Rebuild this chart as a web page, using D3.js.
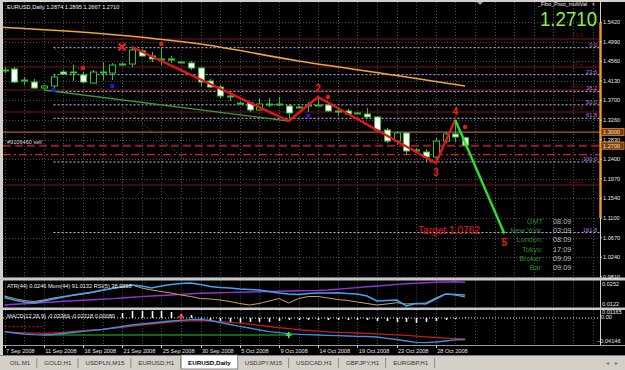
<!DOCTYPE html>
<html><head><meta charset="utf-8">
<script src="https://cdn.jsdelivr.net/npm/d3@7"></script>
<style>
html,body{margin:0;padding:0;background:#d4d0c8;overflow:hidden}
svg{display:block;font-family:"Liberation Sans",Arial,sans-serif}
</style></head>
<body><svg id="c" width="625" height="370"></svg>
<script>
// ---------------- DATA ----------------
const barDates = ["2008-09-07","2008-09-08","2008-09-09","2008-09-10","2008-09-11","2008-09-12","2008-09-14","2008-09-15","2008-09-16","2008-09-17","2008-09-18","2008-09-19","2008-09-21","2008-09-22","2008-09-23","2008-09-24","2008-09-25","2008-09-26","2008-09-28","2008-09-29","2008-09-30","2008-10-01","2008-10-02","2008-10-03","2008-10-05","2008-10-06","2008-10-07","2008-10-08","2008-10-09","2008-10-10","2008-10-12","2008-10-13","2008-10-14","2008-10-15","2008-10-16","2008-10-17","2008-10-19","2008-10-20","2008-10-21","2008-10-22","2008-10-23","2008-10-24","2008-10-26","2008-10-27","2008-10-28","2008-10-29","2008-10-30","2008-10-31"];
const openP  = [1.4368,1.4390,1.4147,1.4103,1.3971,1.4015,1.4324,1.4324,1.4258,1.4081,1.4324,1.4302,1.4500,1.4500,1.4787,1.4677,1.4611,1.4611,1.4544,1.4522,1.4412,1.4125,1.3993,1.3795,1.3640,1.3640,1.3486,1.3618,1.3618,1.3574,1.3552,1.3596,1.3596,1.3596,1.3464,1.3464,1.3420,1.3398,1.3332,1.3045,1.2802,1.2979,1.2604,1.2560,1.2450,1.2802,1.2957,1.2874];
const highP  = [1.4434,1.4434,1.4214,1.4170,1.4037,1.4258,1.4368,1.4478,1.4324,1.4368,1.4544,1.4522,1.4522,1.4875,1.4831,1.4765,1.4853,1.4677,1.4566,1.4566,1.4434,1.4170,1.4037,1.3861,1.3662,1.3662,1.3751,1.3751,1.3773,1.3618,1.3574,1.3662,1.3773,1.3618,1.3552,1.3508,1.3442,1.3530,1.3354,1.3089,1.3023,1.3001,1.2648,1.2626,1.2869,1.3001,1.3265,1.2895];
const lowP   = [1.4302,1.4081,1.4037,1.3949,1.3949,1.3971,1.4258,1.4125,1.4081,1.4059,1.4147,1.4147,1.4478,1.4434,1.4655,1.4544,1.4478,1.4522,1.4522,1.4368,1.4015,1.3971,1.3751,1.3684,1.3618,1.3442,1.3464,1.3552,1.3574,1.3243,1.3530,1.3442,1.3574,1.3442,1.3354,1.3376,1.3398,1.3310,1.3023,1.2758,1.2714,1.2494,1.2538,1.2339,1.2317,1.2758,1.2780,1.2667];
const closeP = [1.4357,1.4103,1.4125,1.3971,1.4015,1.4214,1.4280,1.4313,1.4103,1.4324,1.4313,1.4478,1.4495,1.4809,1.4677,1.4611,1.4600,1.4588,1.4540,1.4412,1.4103,1.3993,1.3795,1.3784,1.3636,1.3486,1.3618,1.3607,1.3614,1.3420,1.3548,1.3585,1.3592,1.3464,1.3453,1.3398,1.3416,1.3332,1.3045,1.2802,1.2979,1.2582,1.2582,1.2450,1.2802,1.2957,1.2891,1.2710];

const maBars = [0,10,20,30,40,47];
const maVals = [1.5305,1.5168,1.4941,1.4566,1.4247,1.4015];

const priceTicks = [1.5420,1.4990,1.4560,1.4130,1.3700,1.3260,1.2830,1.2400,1.1970,1.1540,1.1100,1.0670,1.0240,0.9810];

const fibLabels = ["0.0","23.6","38.2","50.0","61.8","100.0","161.8"];
const fibPrices = [1.4860,1.4265,1.3897,1.3600,1.3303,1.2340,1.0783];
const fibStartBar = 5;

const pivotPrices = [1.5052,1.4434,1.3927,1.3442,1.1832];
const pivotLabels = ["23.6","38.2","50.0","61.8","100.0"];

const zzBars   = [13,29,32,44,46];
const zzPrices = [1.4875,1.3243,1.3773,1.2317,1.3265];
const wave5Bars = [46,51];
const wave5Prices = [1.3265,1.0762];
const waveLabels = ["2","3","4","5"];
const waveLabelBars = [32,44,46,51];
const waveLabelPrices = [1.3773,1.2317,1.3265,1.0762];
const waveLabelAbove = [true,false,true,false];

const redDotBars = [8,16,33,47];
const redDotPrices = [1.4412,1.4941,1.3773,1.3111];
const blueDotBars = [5,11,31];
const blueDotPrices = [1.3927,1.4015,1.3360];
const xMarkBar = 12, xMarkPrice = 1.4875;

const trendBars = [4,29], trendPrices = [1.3927,1.3243];
const dotTrendBars = [4.95,18.7], dotTrendPrices = [1.4875,1.2339];

const resistLevel = 1.3000, orderLevel = 1.2700, stopLevel = 1.2500;
const orderLabel = "#9106460 sell";
const targetPrice = 1.0762;
const lastPrice = "1.2710";
const rangeBar = [1.1100,1.5420];

const atrVals = [0.0132,0.01355,0.01385,0.0141,0.01445,0.0147,0.01505,0.01535,0.0156,0.0158,0.0161,0.0164,0.0167,0.0171,0.0174,0.0177,0.01795,0.0182,0.0185,0.0188,0.01905,0.0192,0.01935,0.0195,0.0196,0.0197,0.01985,0.01995,0.0201,0.0202,0.0203,0.0204,0.02045,0.0207,0.0211,0.0215,0.0219,0.0223,0.0227,0.0231,0.0235,0.02385,0.0241,0.02435,0.02455,0.0247,0.0248,0.0246];
const momVals = [89.87,88.71,87.79,87.32,88.25,89.18,90.11,91.04,91.73,92.43,93.36,94.05,94.75,95.68,95.21,94.29,95.21,95.91,96.38,96.61,95.91,94.98,94.52,94.29,93.82,93.59,93.36,92.66,91.96,91.5,91.27,91.73,91.96,91.96,92.1,91.73,91.5,90.57,88.25,88.48,88.71,85.93,87.09,86.86,89.18,91.5,91.27,91.01];
const rsiVals = [42.9,33.9,26.8,23.2,28.6,35.7,41.1,44.6,50,55.4,62.5,69.6,76.8,82.1,71.4,64.3,58.9,53.6,46.4,41.1,33.9,32.1,28.6,23.2,16.1,10.7,16.1,25,33.9,17.9,33.9,41.1,41.1,35.7,30.4,26.8,21.4,16.1,10.7,14.3,18.9,14.3,16.1,17.9,35.7,50,46.4,38.99];

const macdMain = [-0.02146,-0.0235,-0.02506,-0.02615,-0.02662,-0.02584,-0.02428,-0.02271,-0.02084,-0.01928,-0.01803,-0.01569,-0.01334,-0.011,-0.00944,-0.00788,-0.00631,-0.00475,-0.00366,-0.00272,-0.0021,-0.00397,-0.00709,-0.01022,-0.01303,-0.01569,-0.01881,-0.02146,-0.02303,-0.02459,-0.02553,-0.02615,-0.02662,-0.02709,-0.02771,-0.02818,-0.02865,-0.02896,-0.02974,-0.03177,-0.03365,-0.03599,-0.03802,-0.03865,-0.03755,-0.03599,-0.03412,-0.03369];
const macdSignal = [-0.02146,-0.0224,-0.02318,-0.02365,-0.02396,-0.0235,-0.0224,-0.02115,-0.0199,-0.01881,-0.01772,-0.01615,-0.01459,-0.01287,-0.01131,-0.00944,-0.00788,-0.00631,-0.00506,-0.00444,-0.00428,-0.00475,-0.00584,-0.00694,-0.00819,-0.00975,-0.01147,-0.01334,-0.01522,-0.01678,-0.01834,-0.01959,-0.02068,-0.02162,-0.0224,-0.02303,-0.0235,-0.02412,-0.02475,-0.02553,-0.02631,-0.02724,-0.02834,-0.02943,-0.03052,-0.03146,-0.03224,-0.03287];
const macdHist = [0,0,0,0,0,0,0,0,0,0,0,0,0.0078,0.0109,0.0109,0.0109,0.0109,0.0094,0.0062,0.0047,-0.0016,-0.0047,-0.0062,-0.0062,-0.0078,-0.0062,-0.0062,-0.0062,-0.0047,-0.0031,-0.0031,-0.0031,-0.0031,-0.0031,-0.0031,-0.0031,-0.0031,-0.0031,-0.0047,-0.0047,-0.0062,-0.0062,-0.0078,-0.0062,-0.0047,-0.0031,-0.0016,0.0008];
const macdFlatBars = [4,29], macdFlatVal = -0.02662;
const macdRedCross = [18, 0.00197], macdGreenCross = [29, -0.02662];
const macdDashBars = [0,4], macdDashVal = -0.0137;

const atrTicks = [0.0252,0.0122];
const macdTicks = [0.01165,-0.04146];

const headerText = "EURUSD,Daily  1.2874 1.2895 1.2667 1.2710";
const subText1 = "ATR(44) 0.0246  Mom(44) 91.0132  RSI(5) 38.9938";
const subText2 = "MACD(12,26,9) -0.03369,-0.02318 0.00080";
const indicatorName = "_Fibo_Pivot_multiVal";
const clockLabels = ["GMT","New York:","London:","Tokyo:","Broker:","Bar:"];
const clockTimes  = ["08:09","03:09","08:09","17:09","09:09","09:09"];
const tabNames = ["OIL,M1","GOLD,H1","USDPLN,M15","EURUSD,H1","EURUSD,Daily","USDJPY,M15","USDCAD,H1","GBPJPY,H1","EURGBP,H1"];
const activeTab = "EURUSD,Daily";

// ---------------- LAYOUT ----------------
const svg = d3.select("#c");
const PL = 3, PR = 600;
const mainT = 2, mainB = 277.5;
const atrT = 280.5, atrB = 307.5;
const macdT = 310, macdB = 345;
const axisCol = "#e6e6e6";
const fs = 5.6;

const x = d3.scaleLinear().domain([0,47]).range([4.5,465.1]);
const y = d3.scaleLinear().domain([0.981,1.542]).range([276.7,22.3]);
const atrY = d3.scaleLinear().domain([0.0122,0.0252]).range([307,281]);
const momY = d3.scaleLinear().domain([85,98]).range([308,280]);
const rsiY = d3.scaleLinear().domain([0,100]).range([308,280]);
const macdY = d3.scaleLinear().domain([-0.04146,0.01165]).range([344.5,310.5]);
const parseD = d3.timeParse("%Y-%m-%d");
const fmtD = d3.timeFormat("%-d %b %Y");

svg.append("rect").attr("width",625).attr("height",370).attr("fill","#d4d0c8");
svg.append("rect").attr("x",PL).attr("y",mainT).attr("width",625-PL).attr("height",355-mainT).attr("fill","#000");

const defs = svg.append("defs");
function clip(id,t,b){defs.append("clipPath").attr("id",id).append("rect").attr("x",PL).attr("y",t).attr("width",PR-PL).attr("height",b-t);}
clip("cm",mainT,mainB); clip("ca",atrT,atrB); clip("cd",macdT,macdB);

// grid
const gridBars = d3.range(0,61,2);
const grid = svg.append("g").attr("stroke","#4d4d4d").attr("stroke-dasharray","1,2").attr("stroke-width",1);
[[mainT,mainB],[atrT,atrB],[macdT,macdB]].forEach(([t,b])=>{
  grid.append("g").selectAll("line").data(gridBars).join("line")
    .attr("x1",d=>Math.round(x(d))+0.5).attr("x2",d=>Math.round(x(d))+0.5).attr("y1",t).attr("y2",b);
});
grid.append("g").selectAll("line").data(priceTicks).join("line")
  .attr("x1",PL).attr("x2",PR).attr("y1",d=>Math.round(y(d))+0.5).attr("y2",d=>Math.round(y(d))+0.5);

// ---------------- MAIN ----------------
const gm = svg.append("g").attr("clip-path","url(#cm)");
const hline = (p,x0) => gm.append("line").attr("x1",x0).attr("x2",PR).attr("y1",y(p)).attr("y2",y(p));

pivotPrices.forEach(p=>hline(p,PL).attr("stroke","#7c1414").attr("stroke-width",1.2));
fibPrices.forEach(p=>hline(p,x(fibStartBar)).attr("stroke","#d9b8e6").attr("stroke-width",1).attr("stroke-dasharray","2,2"));
hline(resistLevel,PL).attr("stroke","#a5613a").attr("stroke-width",1.2);
hline(orderLevel,PL).attr("stroke","#9a1c1c").attr("stroke-width",2).attr("stroke-dasharray","8,4");
hline(stopLevel,PL).attr("stroke","#d42020").attr("stroke-width",1.2).attr("stroke-dasharray","8,3,2,3");

gm.append("g").selectAll("text").data(fibLabels).join("text")
  .attr("x",PR-3).attr("y",(d,i)=>y(fibPrices[i])-1).attr("text-anchor","end")
  .attr("font-size",fs).attr("fill","#b57ee8").text(d=>d);
gm.append("g").selectAll("text").data(pivotLabels).join("text")
  .attr("x",PR-17).attr("y",(d,i)=>y(pivotPrices[i])-2).attr("text-anchor","end")
  .attr("font-size",fs).attr("fill","#6e1616").text(d=>d);

// MA
const ma = d3.line().x((d,i)=>x(maBars[i])).y(d=>y(d)).curve(d3.curveMonotoneX);
gm.append("path").attr("d",ma(maVals)).attr("fill","none").attr("stroke","#f0a43a").attr("stroke-width",1.6);
gm.append("line").attr("x1",PL).attr("x2",x(0)).attr("y1",y(maVals[0])-0.2).attr("y2",y(maVals[0])).attr("stroke","#f0a43a").attr("stroke-width",1.6);

// trend lines
gm.append("line").attr("x1",x(trendBars[0])).attr("x2",x(trendBars[1])).attr("y1",y(trendPrices[0])).attr("y2",y(trendPrices[1]))
  .attr("stroke","#3b9a3b").attr("stroke-width",1.3);
gm.append("line").attr("x1",x(dotTrendBars[0])).attr("x2",x(dotTrendBars[1])).attr("y1",y(dotTrendPrices[0])).attr("y2",y(dotTrendPrices[1]))
  .attr("stroke","#3d8f3d").attr("stroke-width",1).attr("stroke-dasharray","1,2");

// candles
const idx = d3.range(openP.length);
const cg = gm.append("g");
cg.selectAll("line.w").data(idx).join("line").attr("class","w")
  .attr("x1",i=>Math.round(x(i))+0.5).attr("x2",i=>Math.round(x(i))+0.5)
  .attr("y1",i=>y(highP[i])).attr("y2",i=>y(lowP[i])).attr("stroke","#2fc42f").attr("stroke-width",1);
cg.selectAll("rect").data(idx).join("rect")
  .attr("x",i=>Math.round(x(i))-2.5).attr("width",6)
  .attr("y",i=>y(Math.max(openP[i],closeP[i])))
  .attr("height",i=>Math.max(1,Math.abs(y(openP[i])-y(closeP[i]))))
  .attr("fill",i=>closeP[i]>openP[i]?"#000":"#ffffff")
  .attr("stroke","#2fc42f").attr("stroke-width",1);

// zigzag
const pl = d3.line().x(d=>x(d[0])).y(d=>y(d[1]));
gm.append("path").attr("d",pl(zzBars.map((b,i)=>[b,zzPrices[i]]))).attr("fill","none").attr("stroke","#e8141a").attr("stroke-width",2.4).attr("stroke-linejoin","round");
gm.append("path").attr("d",pl(wave5Bars.map((b,i)=>[b,wave5Prices[i]]))).attr("fill","none").attr("stroke","#2ee02e").attr("stroke-width",2.4);

gm.append("g").selectAll("circle").data(redDotBars).join("circle")
  .attr("cx",(d)=>x(d)).attr("cy",(d,i)=>y(redDotPrices[i])).attr("r",2.2).attr("fill","#e81818");
gm.append("g").selectAll("rect").data(blueDotBars).join("rect")
  .attr("x",d=>x(d)-2).attr("y",(d,i)=>y(blueDotPrices[i])-2).attr("width",4).attr("height",4).attr("fill","#1a1ad8");
const xm = gm.append("g").attr("transform",`translate(${x(xMarkBar)},${y(xMarkPrice)})`).attr("stroke","#f02020").attr("stroke-width",2.2);
xm.append("line").attr("x1",-3.5).attr("y1",-3.5).attr("x2",3.5).attr("y2",3.5);
xm.append("line").attr("x1",-3.5).attr("y1",3.5).attr("x2",3.5).attr("y2",-3.5);

gm.append("g").selectAll("text").data(waveLabels).join("text")
  .attr("x",(d,i)=>x(waveLabelBars[i])).attr("y",(d,i)=>y(waveLabelPrices[i])+(waveLabelAbove[i]?-5:12.5))
  .attr("text-anchor","middle").attr("font-size",10).attr("font-weight","bold").attr("fill","#ec1c1c").text(d=>d);

gm.append("text").attr("x",7).attr("y",y(orderLevel)-1.2).attr("font-size",fs).attr("fill","#d8d8d8").text(orderLabel);

gm.append("text").attr("x",418).attr("y",y(targetPrice)+0.5).attr("font-size",10.5).attr("fill","#e01c1c")
  .attr("textLength",62).attr("lengthAdjust","spacingAndGlyphs").text("Target " + d3.format(".4f")(targetPrice));

const ck = svg.append("g").attr("font-size",7.3);
ck.selectAll("text.l").data(clockLabels).join("text").attr("class","l")
  .attr("x",543).attr("y",(d,i)=>223.5+i*9.35).attr("text-anchor","end").attr("fill","#2f8a2f").text(d=>d);
ck.selectAll("text.t").data(clockTimes).join("text").attr("class","t")
  .attr("x",553).attr("y",(d,i)=>223.5+i*9.35).attr("fill","#bdbdbd").text(d=>d);

svg.append("text").attr("x",7).attr("y",9).attr("font-size",fs).attr("fill","#f0f0f0").text(headerText);
svg.append("text").attr("x",538).attr("y",5.6).attr("font-size",4.8).attr("fill","#f0f0f0")
  .attr("textLength",49).attr("lengthAdjust","spacingAndGlyphs").text(indicatorName);
svg.append("text").attr("x",592).attr("y",5.6).attr("font-size",4.8).attr("fill","#f0f0f0").text("×");
svg.append("text").attr("x",540).attr("y",25.5).attr("font-size",20).attr("fill","#8cf03c")
  .attr("textLength",57).attr("lengthAdjust","spacingAndGlyphs").text(lastPrice);
svg.append("path").attr("d","M477,2 L483,2 L480,5 Z").attr("fill","#9a9a9a");

// ---------------- SUBWINDOW 1 ----------------
const ga = svg.append("g").attr("clip-path","url(#ca)");
const lineI = sc => d3.line().x((d,i)=>x(i)).y(d=>sc(d));
ga.append("path").attr("d",lineI(atrY)(atrVals)).attr("fill","none").attr("stroke","#9630d2").attr("stroke-width",1.4);
ga.append("path").attr("d",lineI(rsiY)(rsiVals)).attr("fill","none").attr("stroke","#c9a265").attr("stroke-width",1);
ga.append("path").attr("d",lineI(momY)(momVals)).attr("fill","none").attr("stroke","#3ea6f2").attr("stroke-width",1.5);
svg.append("text").attr("x",7).attr("y",287.6).attr("font-size",fs).attr("fill","#f0f0f0").text(subText1);

// ---------------- MACD ----------------
const gd = svg.append("g").attr("clip-path","url(#cd)");
gd.append("line").attr("x1",PL).attr("x2",PR).attr("y1",macdY(0)).attr("y2",macdY(0)).attr("stroke","#e8e8e8").attr("stroke-dasharray","1,2");
gd.append("g").selectAll("line").data(idx.filter(i=>macdHist[i]!==0)).join("line")
  .attr("x1",i=>Math.round(x(i))+0.5).attr("x2",i=>Math.round(x(i))+0.5)
  .attr("y1",macdY(0)).attr("y2",i=>macdY(macdHist[i])).attr("stroke","#f4f4f4").attr("stroke-width",1.6);
gd.append("line").attr("x1",x(macdDashBars[0])).attr("x2",x(macdDashBars[1])).attr("y1",macdY(macdDashVal)).attr("y2",macdY(macdDashVal))
  .attr("stroke","#c02020").attr("stroke-dasharray","2,2");
gd.append("line").attr("x1",x(macdFlatBars[0])).attr("x2",x(macdFlatBars[1])).attr("y1",macdY(macdFlatVal)).attr("y2",macdY(macdFlatVal))
  .attr("stroke","#22c422").attr("stroke-width",1.2);
gd.append("path").attr("d",lineI(macdY)(macdSignal)).attr("fill","none").attr("stroke","#c41c1c").attr("stroke-width",1.3);
gd.append("path").attr("d",lineI(macdY)(macdMain)).attr("fill","none").attr("stroke","#3a8ee6").attr("stroke-width",1.3);
function cross(g,b,v,c){const cx=x(b),cy=macdY(v);
  g.append("line").attr("x1",cx-3).attr("x2",cx+3).attr("y1",cy).attr("y2",cy).attr("stroke",c).attr("stroke-width",1.5);
  g.append("line").attr("x1",cx).attr("x2",cx).attr("y1",cy-3).attr("y2",cy+3).attr("stroke",c).attr("stroke-width",1.5);}
cross(gd,macdRedCross[0],macdRedCross[1],"#ff3030");
cross(gd,macdGreenCross[0],macdGreenCross[1],"#30ff30");
svg.append("text").attr("x",7).attr("y",317.6).attr("font-size",fs).attr("fill","#f0f0f0").text(subText2);

// ---------------- separators ----------------
svg.append("rect").attr("x",0).attr("y",mainB).attr("width",625).attr("height",3).attr("fill","#c9c9c9");
svg.append("rect").attr("x",0).attr("y",atrB).attr("width",625).attr("height",2.5).attr("fill","#c9c9c9");
svg.append("line").attr("x1",PL).attr("x2",625).attr("y1",macdB+0.5).attr("y2",macdB+0.5).attr("stroke","#9a9a9a");
svg.append("line").attr("x1",PR+0.5).attr("x2",PR+0.5).attr("y1",mainT).attr("y2",macdB).attr("stroke","#d0d0d0");
svg.append("line").attr("x1",PR+0.5).attr("x2",PR+0.5).attr("y1",y(rangeBar[1])).attr("y2",y(rangeBar[0])).attr("stroke","#f59a12").attr("stroke-width",2.4);

// ---------------- price axis ----------------
const ax = svg.append("g").attr("font-size",fs).attr("fill",axisCol);
ax.selectAll("text").data(priceTicks).join("text").attr("x",PR+3).attr("y",d=>y(d)+2).text(d=>d3.format(".4f")(d));
ax.selectAll("line").data(priceTicks).join("line").attr("x1",PR).attr("x2",PR+2).attr("y1",d=>y(d)).attr("y2",d=>y(d)).attr("stroke","#d0d0d0");
[resistLevel,orderLevel].forEach(p=>{
  svg.append("rect").attr("x",PR+1).attr("y",y(p)-3.6).attr("width",23).attr("height",7.2).attr("fill","#7c3c12").attr("stroke","#e08a2a").attr("stroke-width",0.8);
  svg.append("text").attr("x",PR+3).attr("y",y(p)+2).attr("font-size",fs).attr("fill","#f4e2c8").text(d3.format(".4f")(p));
});
svg.append("g").attr("font-size",fs).attr("fill",axisCol).selectAll("text").data(atrTicks).join("text")
  .attr("x",PR+2).attr("y",(d,i)=>i===0?286:306.3).text(d=>d3.format(".4f")(d));
svg.append("text").attr("x",PR+2).attr("y",314).attr("font-size",fs).attr("fill",axisCol).text(d3.format(".5f")(macdTicks[0]));
svg.append("text").attr("x",PR+1).attr("y",319).attr("font-size",fs).attr("fill",axisCol).text("0.00");
svg.append("text").attr("x",PR-3).attr("y",342.7).attr("font-size",fs).attr("fill",axisCol).text(d3.format(".5f")(macdTicks[1]));

// ---------------- date axis ----------------
const dIdx = idx.filter(i=>i%4===0);
const da = svg.append("g");
da.selectAll("line").data(dIdx).join("line").attr("x1",i=>Math.round(x(i))+0.5).attr("x2",i=>Math.round(x(i))+0.5)
  .attr("y1",macdB).attr("y2",macdB+3).attr("stroke","#d0d0d0");
da.selectAll("text").data(dIdx).join("text").attr("x",i=>x(i)+1.5).attr("y",353).attr("font-size",fs).attr("fill",axisCol)
  .text(i=>fmtD(parseD(barDates[i])));

// ---------------- tabs ----------------
svg.append("rect").attr("x",0).attr("y",355).attr("width",625).attr("height",15).attr("fill","#d4d0c8");
svg.append("line").attr("x1",0).attr("x2",625).attr("y1",355.5).attr("y2",355.5).attr("stroke","#808080");
const tg = svg.append("g").attr("font-size",6.2);
let tx = 3;
tabNames.forEach(n=>{
  const act = n===activeTab;
  const t = tg.append("text").attr("y",364.6).attr("fill",act?"#000":"#333").attr("font-weight",act?"bold":"normal").text(n);
  const w = t.node().getComputedTextLength();
  if(act){
    tg.insert("rect","text").attr("x",tx).attr("y",355).attr("width",w+14).attr("height",14).attr("fill","#fff").attr("stroke","#707070").attr("stroke-width",0.8);
  }
  t.attr("x",tx+7);
  tx += w+14;
  if(!act) tg.append("line").attr("x1",tx-0.5).attr("x2",tx-0.5).attr("y1",358).attr("y2",368).attr("stroke","#8a8a8a");
});
tg.append("text").attr("x",606).attr("y",365).attr("fill","#777").attr("font-size",6).text("◂");
tg.append("text").attr("x",615).attr("y",365).attr("fill","#777").attr("font-size",6).text("▸");
</script></body></html>
